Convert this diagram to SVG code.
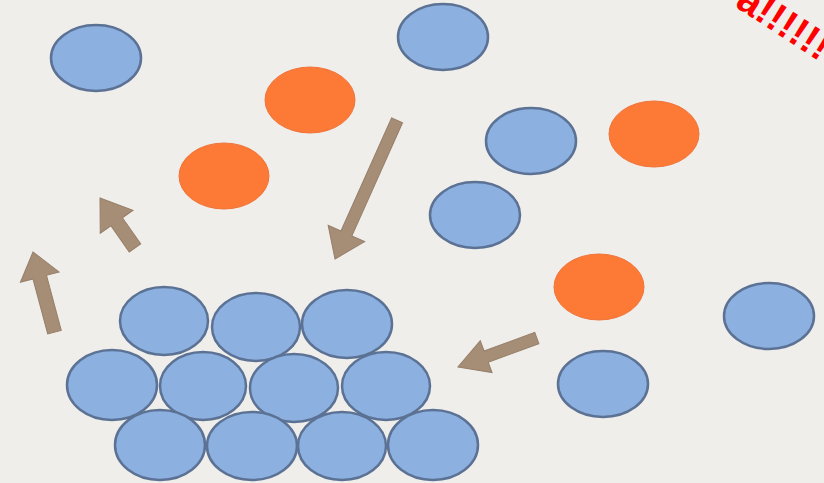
<svg xmlns="http://www.w3.org/2000/svg" width="824" height="483" viewBox="0 0 824 483">
<style>
.b{fill:#8cb0e0;stroke:#5c7294;stroke-width:2.5}
.o{fill:#fc7a36;stroke:#f07338;stroke-width:1}
.ar{fill:#a68d76;stroke:#977f69;stroke-width:1}
.t{font-family:"Liberation Sans",Arial,sans-serif;font-weight:bold;font-size:40px;fill:#ff0000}
</style>
<rect width="824" height="483" fill="#efeeeb"/>
<g id="free">
<g id="b1"><ellipse class="b" cx="96" cy="58" rx="45" ry="33"/></g>
<g id="b2"><ellipse class="b" cx="443" cy="37" rx="45" ry="33"/></g>
<g id="o1"><ellipse class="o" cx="310" cy="100" rx="45" ry="33"/></g>
<g id="o2"><ellipse class="o" cx="224" cy="176" rx="45" ry="33"/></g>
<g id="b3"><ellipse class="b" cx="531" cy="141" rx="45" ry="33"/></g>
<g id="o3"><ellipse class="o" cx="654" cy="134" rx="45" ry="33"/></g>
<g id="b4"><ellipse class="b" cx="475" cy="215" rx="45" ry="33"/></g>
<g id="o4"><ellipse class="o" cx="599" cy="287" rx="45" ry="33"/></g>
<g id="b5"><ellipse class="b" cx="769" cy="316" rx="45" ry="33"/></g>
<g id="b6"><ellipse class="b" cx="603" cy="384" rx="45" ry="33"/></g>
</g>
<g id="cluster">
<g id="c1"><ellipse class="b" cx="164" cy="321" rx="44" ry="34"/></g>
<g id="c2"><ellipse class="b" cx="256" cy="327" rx="44" ry="34"/></g>
<g id="c3"><ellipse class="b" cx="347" cy="324" rx="45" ry="34"/></g>
<g id="c4"><ellipse class="b" cx="112" cy="385" rx="45" ry="35"/></g>
<g id="c5"><ellipse class="b" cx="203" cy="386" rx="43" ry="34"/></g>
<g id="c6"><ellipse class="b" cx="294" cy="388" rx="44" ry="34"/></g>
<g id="c7"><ellipse class="b" cx="386" cy="386" rx="44" ry="34"/></g>
<g id="c8"><ellipse class="b" cx="160" cy="445" rx="45" ry="35"/></g>
<g id="c9"><ellipse class="b" cx="252" cy="446" rx="45" ry="34"/></g>
<g id="c10"><ellipse class="b" cx="342" cy="446" rx="44" ry="34"/></g>
<g id="c11"><ellipse class="b" cx="433" cy="445" rx="45" ry="35"/></g>
</g>
<g id="connectors">
<polygon class="ar" transform="translate(335,259) rotate(114.1)" points="0,0 -28,-20 -28,-6 -152,-6 -152,6 -28,6 -28,20"/>
<polygon class="ar" transform="translate(100,198) rotate(-125)" points="0,0 -29,-20 -29,-7 -61,-7 -61,7 -29,7 -29,20"/>
<polygon class="ar" transform="translate(33,252) rotate(-105)" points="0,0 -26,-20 -26,-7 -83,-7 -83,7 -26,7 -26,20"/>
<polygon class="ar" transform="translate(458,367) rotate(159.8)" points="0,0 -30,-17 -30,-6 -84,-6 -84,6 -30,6 -30,17"/>
</g>
<text class="t" transform="translate(734,6) rotate(33)">a!!!!!!</text>
</svg>
